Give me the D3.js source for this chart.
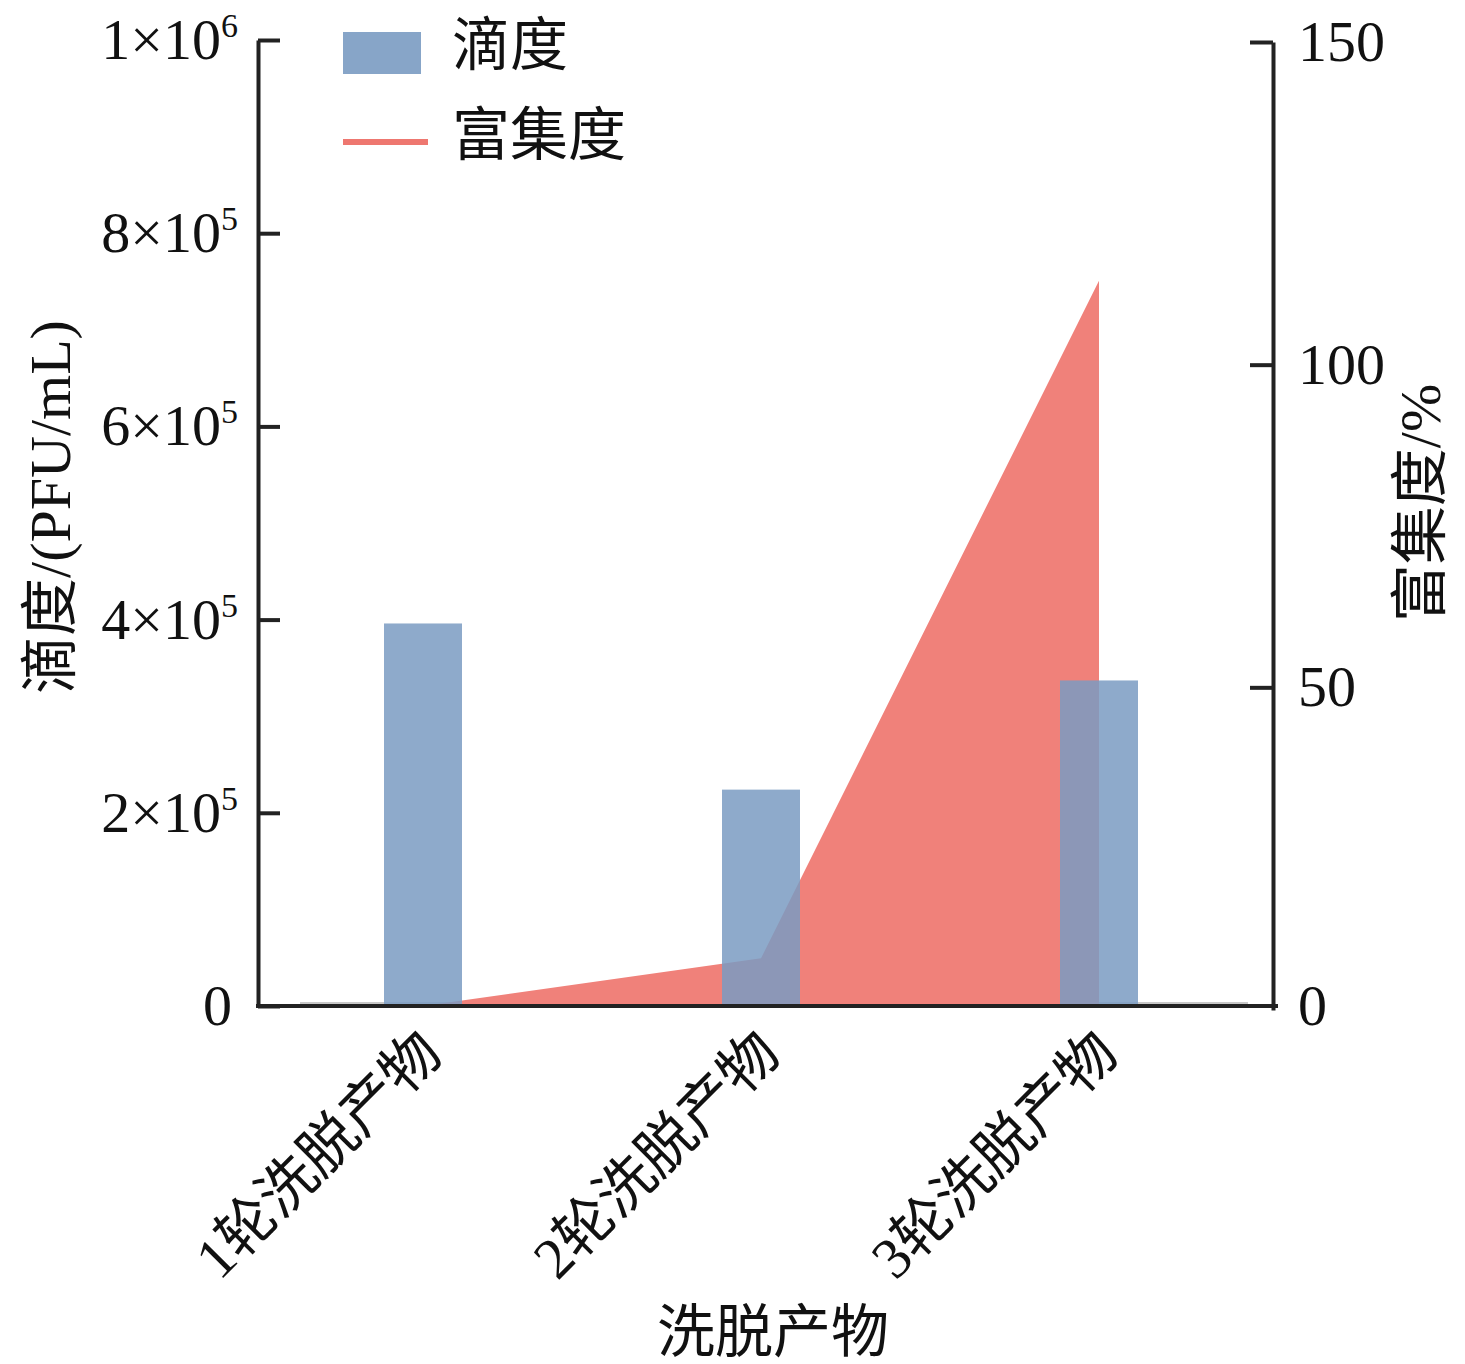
<!DOCTYPE html>
<html>
<head>
<meta charset="utf-8">
<script src="https://cdn.jsdelivr.net/npm/d3@7"></script>
<style>
  body { margin: 0; background: #fff; }
  svg text { font-family: "Liberation Serif", "Noto Sans CJK SC", serif; fill: #111; }
</style>
</head>
<body>
<svg id="chart" width="1465" height="1364"></svg>
<script>
const categories = ['1轮洗脱产物', '2轮洗脱产物', '3轮洗脱产物']
const titer = [3.96e5, 2.24e5, 3.37e5]
const enrichment = [0, 8, 113]
const leftTicks = [0, 2e5, 4e5, 6e5, 8e5, 1e6]
const rightTicks = [0, 50, 100, 150]

const svg = d3.select('#chart')
const fontSize = 58

const x = d3.scaleBand().domain(categories).range([254, 1268])
const yL = d3.scaleLinear().domain([0, 1e6]).range([1006, 40])
const yR = d3.scaleLinear().domain([0, 150]).range([1010, 42])
const barW = 78

// thin grey base line under bars
svg.append('line')
  .attr('x1', 300).attr('x2', 1248)
  .attr('y1', yL(0) - 3).attr('y2', yL(0) - 3)
  .attr('stroke', '#c8c8c8').attr('stroke-width', 2)

// enrichment area
const area = d3.area()
  .x((d, i) => x(categories[i]) + x.bandwidth() / 2)
  .y0(yL(0))
  .y1(d => Math.min(yR(d), yL(0)))
svg.append('path')
  .datum(enrichment)
  .attr('d', area)
  .attr('fill', '#f0817a')

// titer bars
svg.append('g')
  .selectAll('rect')
  .data(titer)
  .join('rect')
  .attr('x', (d, i) => x(categories[i]) + x.bandwidth() / 2 - barW / 2)
  .attr('y', d => yL(d))
  .attr('width', barW)
  .attr('height', d => yL(0) - yL(d))
  .attr('fill', '#7a9bc2')
  .attr('fill-opacity', 0.85)

// left axis
const gL = svg.append('g')
  .attr('transform', 'translate(258,0)')
  .call(d3.axisLeft(yL).tickValues(leftTicks).tickSizeInner(-22).tickSizeOuter(0).tickPadding(20))
gL.selectAll('text').each(function (d) {
  const t = d3.select(this).text('')
  if (d === 0) { t.text('0').attr('dx', -6); return }
  const e = Math.floor(Math.log10(d) + 1e-9)
  const m = Math.round(d / Math.pow(10, e))
  t.append('tspan').text(m + '×10')
  t.append('tspan').attr('dy', -22).attr('font-size', 34).text(e)
})

// right axis
const gR = svg.append('g')
  .attr('transform', 'translate(1273,0)')
  .call(d3.axisRight(yR).tickValues(rightTicks).tickSizeInner(-23).tickSizeOuter(0).tickPadding(25))
const zeroTick = gR.selectAll('.tick').filter(d => d === 0)
zeroTick.select('line').remove()
zeroTick.select('text').attr('y', yL(0) - yR(0))

for (const g of [gL, gR]) {
  g.select('.domain').attr('stroke', '#222').attr('stroke-width', 4)
  g.selectAll('.tick line').attr('stroke', '#222').attr('stroke-width', 4)
  g.selectAll('text').attr('font-size', fontSize).attr('fill', '#111')
    .style('font-family', '"Liberation Serif", "Noto Sans CJK SC", serif')
}
gL.selectAll('text tspan:nth-child(2)').attr('font-size', 34)

// bottom axis
const gX = svg.append('g')
  .attr('transform', `translate(0,${yL(0)})`)
  .call(d3.axisBottom(x).tickSize(0).tickPadding(0))
gX.select('.domain').remove()
gX.append('line')
  .attr('x1', 256).attr('x2', 1278)
  .attr('stroke', '#222').attr('stroke-width', 4)
gX.selectAll('.tick text')
  .attr('font-size', fontSize)
  .attr('fill', '#111')
  .style('font-family', '"Liberation Serif", "Noto Sans CJK SC", serif')
  .attr('text-anchor', 'end')
  .attr('dy', 0)
  .attr('transform', 'translate(22,50) rotate(-45)')

// axis titles
svg.append('text')
  .attr('transform', 'translate(70,507) rotate(-90)')
  .attr('text-anchor', 'middle')
  .attr('font-size', fontSize)
  .text('滴度/(PFU/mL)')
svg.append('text')
  .attr('transform', 'translate(1440,503) rotate(-90)')
  .attr('text-anchor', 'middle')
  .attr('font-size', fontSize)
  .text('富集度/%')
svg.append('text')
  .attr('x', 773).attr('y', 1352)
  .attr('text-anchor', 'middle')
  .attr('font-size', fontSize)
  .text('洗脱产物')

// legend
const legend = svg.append('g')
legend.append('rect')
  .attr('x', 343).attr('y', 32).attr('width', 78).attr('height', 42)
  .attr('fill', '#7a9bc2').attr('fill-opacity', 0.9)
legend.append('text')
  .attr('x', 452).attr('y', 45).attr('dominant-baseline', 'central')
  .attr('font-size', fontSize).text('滴度')
legend.append('line')
  .attr('x1', 343).attr('x2', 428).attr('y1', 142).attr('y2', 142)
  .attr('stroke', '#ee7770').attr('stroke-width', 6)
legend.append('text')
  .attr('x', 452).attr('y', 135).attr('dominant-baseline', 'central')
  .attr('font-size', fontSize).text('富集度')
</script>
</body>
</html>
